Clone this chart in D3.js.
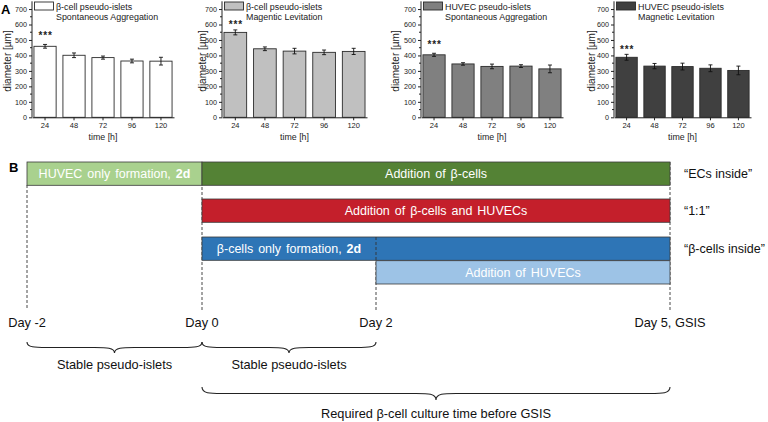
<!DOCTYPE html>
<html><head><meta charset="utf-8">
<script src="https://cdn.jsdelivr.net/npm/d3@7/dist/d3.min.js"></script>
<style>
html,body{margin:0;padding:0;background:#fff;}
svg{display:block;font-family:"Liberation Sans",Arial,sans-serif;}
</style></head>
<body><svg id="c" width="768" height="422"></svg>
<script>
// ---------- DATA: panel A ----------
const times = ["24","48","72","96","120"];
const yTickValues = [0,100,200,300,400,500,600,700];
const p1Mean = [459,401,386,364,363];
const p1Err  = [12,15,10,12,25];
const p2Mean = [549,443,428,420,426];
const p2Err  = [16,12,18,15,20];
const p3Mean = [404,345,329,331,313];
const p3Err  = [10,8,15,9,25];
const p4Mean = [388,331,328,317,303];
const p4Err  = [19,17,22,22,28];
const panelTitle1 = ["β-cell pseudo-islets","β-cell pseudo-islets","HUVEC pseudo-islets","HUVEC pseudo-islets"];
const panelTitle2 = ["Spontaneous Aggregation","Magentic Levitation","Spontaneous Aggregation","Magnetic Levitation"];
const panelStars = ["***","***","***","***"];
const xTitle = "time [h]";
const yTitle = "diameter [µm]";

// ---------- DATA: panel B ----------
const days = [-2,0,2,5];
const dayLabels = ["Day -2","Day 0","Day 2","Day 5, GSIS"];
const phaseLabels = ["HUVEC only formation, ","Addition of β-cells","Addition of β-cells and HUVECs","β-cells only formation, ","Addition of HUVECs"];
const phaseBold   = ["2d","","","2d",""];
const phaseStart  = [-2,0,0,0,2];
const phaseEnd    = [0,5,5,5,5];
const phaseLabelEnd = [0,5,5,2,5];
const phaseRow    = [0,0,1,2,3];
const rowLabels = ["“ECs inside”","“1:1”","“β-cells inside”"];
const braceFrom = [-2,0,0];
const braceTo   = [0,2,5];
const braceLabels = ["Stable pseudo-islets","Stable pseudo-islets","Required β-cell culture time before GSIS"];
const braceLevel = [0,0,1];

// ---------- STYLE / LAYOUT ----------
const barFill = ["#ffffff","#c0c0c0","#808080","#404040"];
const phaseFill = ["#a9d18e","#548235","#c41f2b","#2e75b6","#9dc3e6"];
const panelX = [32,222,421,614];
const panelW = [142,145,142,137];
const yLabelX = [7,202,395,591];
const starGap = [5.7,1.5,5.6,1.8];
const yTop = 1.3, yBottom = 117.3;
const rowTop = [162,199,237,260.7];
const rowH = 23.3;

const svg = d3.select("#c");
const means = [p1Mean,p2Mean,p3Mean,p4Mean];
const errs = [p1Err,p2Err,p3Err,p4Err];

const y = d3.scaleLinear().domain([0,750]).range([yBottom,yTop]);

svg.append("text").attr("x",1).attr("y",13.5).attr("font-size",13).attr("font-weight","bold").text("A");
svg.append("text").attr("x",9).attr("y",172).attr("font-size",13).attr("font-weight","bold").text("B");

for (let p=0;p<4;p++){
  const ox = panelX[p], w = panelW[p];
  const g = svg.append("g");
  const x = d3.scaleBand().domain(times).range([ox, ox+w]).paddingInner(0.2).paddingOuter(0.05);
  const data = times.map((t,i)=>({t, m:means[p][i], e:errs[p][i]}));
  g.selectAll("rect.bar").data(data).join("rect")
    .attr("x",d=>x(d.t)+0.5).attr("y",d=>y(d.m)).attr("width",x.bandwidth()-1)
    .attr("height",d=>y(0)-y(d.m)).attr("fill",barFill[p]).attr("stroke","#2b2b2b").attr("stroke-width",0.9);
  const eg = g.selectAll("g.err").data(data).join("g");
  eg.append("line").attr("x1",d=>x(d.t)+x.bandwidth()/2).attr("x2",d=>x(d.t)+x.bandwidth()/2)
    .attr("y1",d=>y(d.m-d.e)).attr("y2",d=>y(d.m+d.e)).attr("stroke","#111").attr("stroke-width",0.9);
  eg.selectAll("line.cap").data(d=>[d.m-d.e,d.m+d.e].map(v=>({v,t:d.t}))).join("line")
    .attr("x1",d=>x(d.t)+x.bandwidth()/2-2).attr("x2",d=>x(d.t)+x.bandwidth()/2+2)
    .attr("y1",d=>y(d.v)).attr("y2",d=>y(d.v)).attr("stroke","#111").attr("stroke-width",0.9);
  const ya = d3.axisLeft(y).tickValues(yTickValues).tickSize(3).tickFormat(d3.format("d"));
  const yag = g.append("g").attr("transform",`translate(${ox},0)`).call(ya);
  yag.select(".domain").attr("d",`M0,${yTop}V${yBottom}`).attr("stroke","#222");
  yag.selectAll("text").attr("font-size",7.2).attr("fill","#222").attr("x",-5);
  yag.selectAll(".tick line").attr("stroke","#222");
  const yMinor = d3.range(50,750,100);
  g.selectAll("line.minor").data(yMinor).join("line").attr("x1",ox-2).attr("x2",ox)
    .attr("y1",d=>y(d)).attr("y2",d=>y(d)).attr("stroke","#222");
  const xa = d3.axisBottom(x).tickSize(3).tickSizeOuter(0);
  const xag = g.append("g").attr("transform",`translate(0,${yBottom})`).call(xa);
  xag.select(".domain").attr("stroke","#222");
  xag.selectAll("text").attr("font-size",7.5).attr("fill","#222").attr("y",5);
  xag.selectAll(".tick line").attr("stroke","#222");
  g.append("text").attr("x",ox+w/2).attr("y",140).attr("text-anchor","middle").attr("font-size",8.8).attr("fill","#222").text(xTitle);
  g.append("text").attr("transform",`translate(${yLabelX[p]+3.5},${61}) rotate(-90)`).attr("text-anchor","middle")
    .attr("font-size",10).attr("fill","#222").text(yTitle);
  g.append("rect").attr("x",ox+2.5).attr("y",2).attr("width",19).attr("height",8)
    .attr("fill",barFill[p]).attr("stroke","#2b2b2b").attr("stroke-width",0.9);
  g.append("text").attr("x",ox+24).attr("y",9.7).attr("font-size",8.9).attr("fill","#222").text(panelTitle1[p]);
  g.append("text").attr("x",ox+24).attr("y",19.7).attr("font-size",8.9).attr("fill","#222").text(panelTitle2[p]);
  const d0 = data[0];
  g.append("text").attr("x",x(d0.t)+x.bandwidth()/2+0.5).attr("y",y(d0.m+d0.e)-starGap[p])
    .attr("text-anchor","middle").attr("font-size",10).attr("font-weight","bold").attr("letter-spacing",0.8)
    .attr("fill","#222").text(panelStars[p]);
}

// ---------- panel B ----------
const xd = d3.scaleLinear().domain(days).range([27,202,376,670]);
const dashBottom = 310;
const dashTop = [185,162,237,162];
const gB = svg.append("g");
gB.selectAll("line.dash").data(days).join("line")
  .attr("x1",d=>xd(d)).attr("x2",d=>xd(d)).attr("y1",(d,i)=>dashTop[i]).attr("y2",dashBottom)
  .attr("stroke","#333").attr("stroke-width",0.9).attr("stroke-dasharray","3,2");
const phases = phaseLabels.map((l,i)=>({l,b:phaseBold[i],s:phaseStart[i],e:phaseEnd[i],le:phaseLabelEnd[i],r:phaseRow[i],c:phaseFill[i]}));
gB.selectAll("rect.ph").data(phases).join("rect")
  .attr("x",d=>xd(d.s)).attr("y",d=>rowTop[d.r]).attr("width",d=>xd(d.e)-xd(d.s)).attr("height",rowH)
  .attr("fill",d=>d.c).attr("stroke","#3a3a3a").attr("stroke-width",0.8);
const pt = gB.selectAll("text.ph").data(phases).join("text")
  .attr("x",d=>(xd(d.s)+xd(d.le))/2).attr("y",d=>rowTop[d.r]+rowH/2+4.5)
  .attr("text-anchor","middle").attr("font-size",12.5).attr("fill","#fff").attr("word-spacing","1.5px");
pt.append("tspan").text(d=>d.l);
pt.append("tspan").attr("font-weight","bold").text(d=>d.b);
gB.append("line").attr("x1",xd(2)).attr("x2",xd(2)).attr("y1",rowTop[2]).attr("y2",rowTop[3])
  .attr("stroke","#333").attr("stroke-width",0.9).attr("stroke-dasharray","3,2");
gB.selectAll("text.rl").data(rowLabels).join("text")
  .attr("x",684).attr("y",(d,i)=>rowTop[i]+rowH/2+4.5).attr("font-size",12.5).attr("fill","#111").text(d=>d);
gB.selectAll("text.day").data(days).join("text")
  .attr("x",d=>xd(d)).attr("y",326.5).attr("text-anchor","middle")
  .attr("font-size",12.8).attr("fill","#111").text((d,i)=>dayLabels[i]);
const braceY = [342,387], braceH = [11,13];
function brace(x1,x2,yy,h){
  const m=(x1+x2)/2, q=h/2, r=Math.min(20,(x2-x1)/6);
  return `M${x1},${yy} C${x1},${yy+q} ${x1+r*0.4},${yy+q} ${x1+r},${yy+q} L${m-r},${yy+q} C${m-r*0.4},${yy+q} ${m},${yy+q} ${m},${yy+h} C${m},${yy+q} ${m+r*0.4},${yy+q} ${m+r},${yy+q} L${x2-r},${yy+q} C${x2-r*0.4},${yy+q} ${x2},${yy+q} ${x2},${yy}`;
}
const braces = braceLabels.map((l,i)=>({l,a:braceFrom[i],b:braceTo[i],lv:braceLevel[i]}));
gB.selectAll("path.br").data(braces).join("path")
  .attr("d",d=>brace(xd(d.a),xd(d.b),braceY[d.lv],braceH[d.lv]))
  .attr("fill","none").attr("stroke","#222").attr("stroke-width",1.1);
const braceTextY = [368.5,417.5];
gB.selectAll("text.br").data(braces).join("text")
  .attr("x",d=>(xd(d.a)+xd(d.b))/2).attr("y",d=>braceTextY[d.lv])
  .attr("text-anchor","middle").attr("font-size",12.8).attr("fill","#111").text(d=>d.l);
</script></body></html>
